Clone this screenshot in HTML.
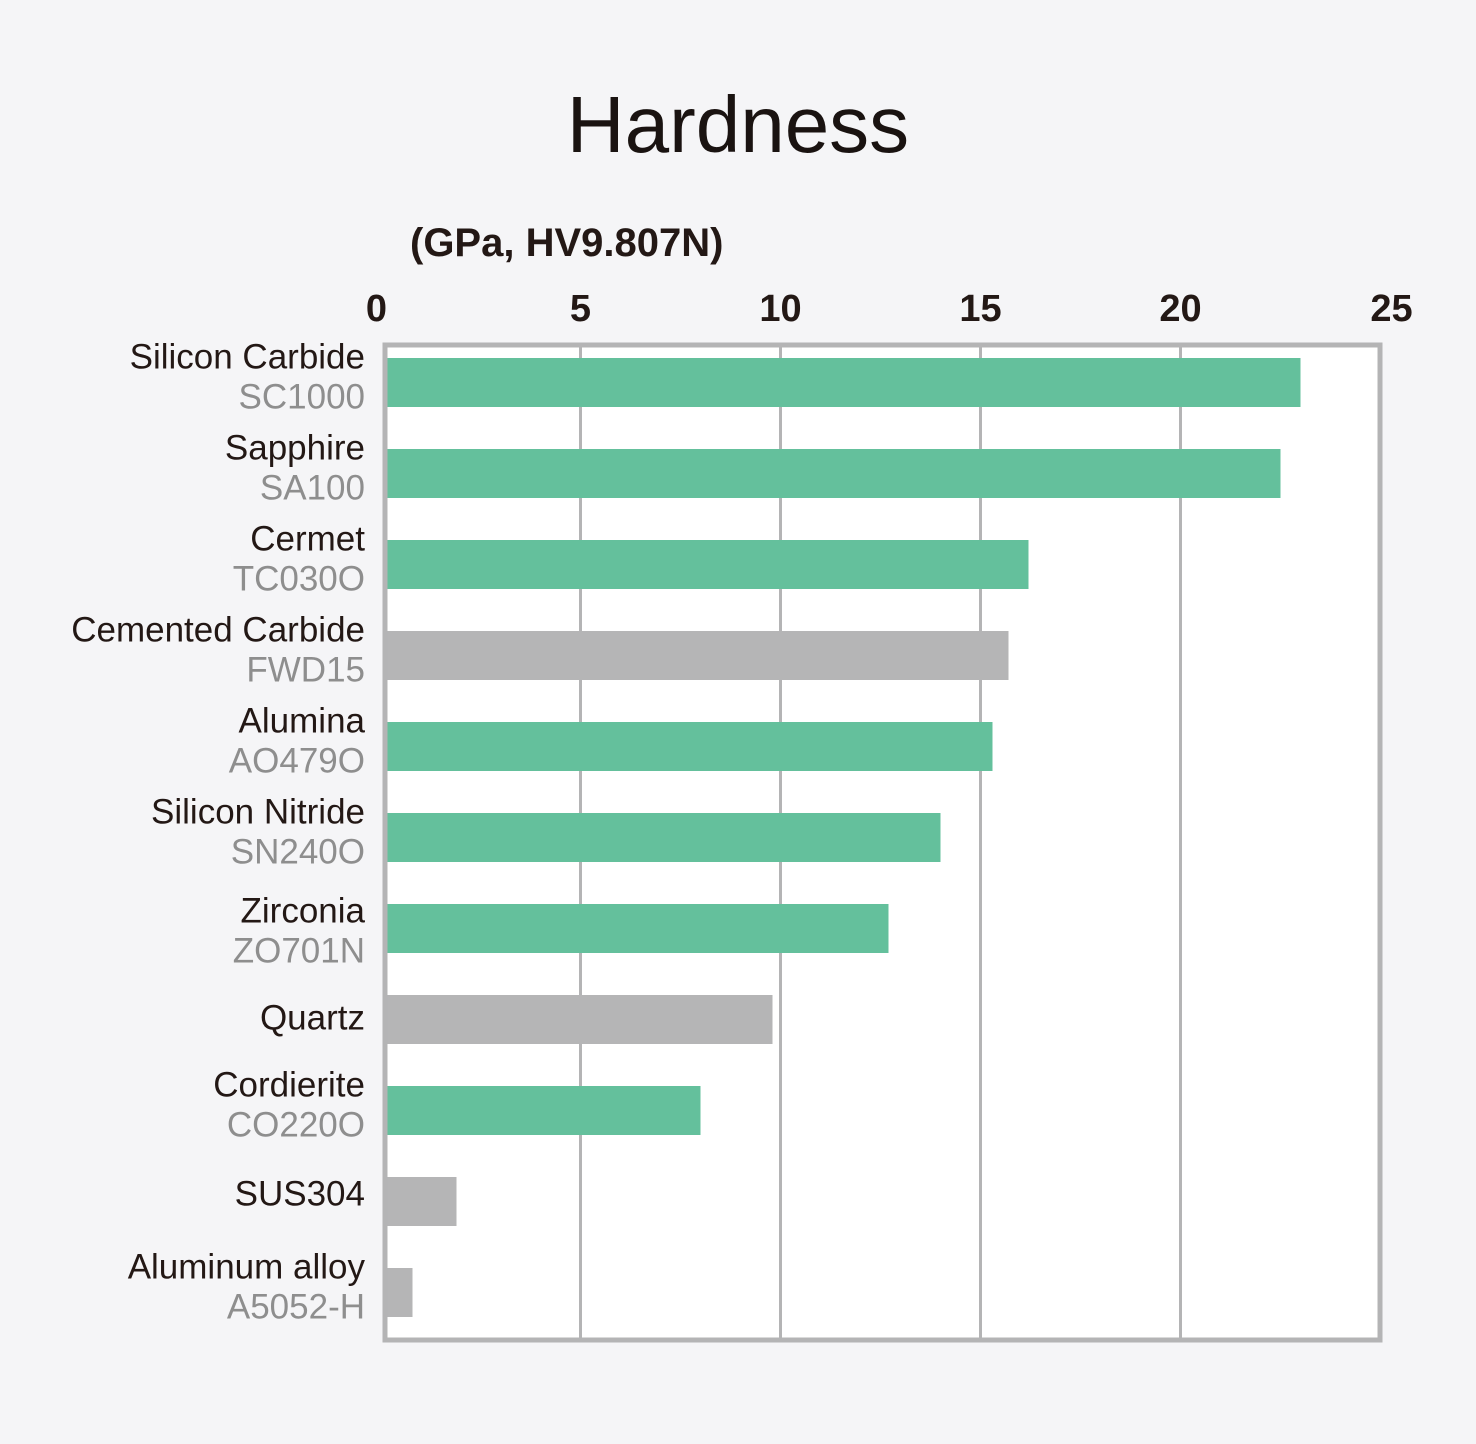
<!DOCTYPE html>
<html><head><meta charset="utf-8"><style>
html,body{margin:0;padding:0;background:#f5f5f7;}
svg{display:block;font-family:"Liberation Sans",sans-serif;}
</style></head><body>
<svg id="chart" width="1476" height="1444" viewBox="0 0 1476 1444">
<rect x="0" y="0" width="1476" height="1444" fill="#f5f5f7"/>
<text x="738" y="152" font-size="80" text-anchor="middle" fill="#1a1311">Hardness</text>
<text x="410" y="256" font-size="40" font-weight="bold" fill="#231815">(GPa, HV9.807N)</text>
<rect x="385" y="345" width="995" height="995" fill="#ffffff"/>
<g id="grid"></g>
<g id="bars"></g>
<rect x="385" y="345" width="995" height="995" fill="none" stroke="#b4b4b5" stroke-width="5"/>
<g id="ticks"></g>
<g id="labels"></g>
</svg>
<script>
const categories = ["Silicon Carbide","Sapphire","Cermet","Cemented Carbide","Alumina","Silicon Nitride","Zirconia","Quartz","Cordierite","SUS304","Aluminum alloy"];
const codes = ["SC1000","SA100","TC030O","FWD15","AO479O","SN240O","ZO701N","","CO220O","","A5052-H"];
const values = [23.0,22.5,16.2,15.7,15.3,14.0,12.7,9.8,8.0,1.9,0.8];
const highlighted = [true,true,true,false,true,true,true,false,true,false,false];
const tickValues = [0,5,10,15,20,25];
const tickLabels = ["0","5","10","15","20","25"];

const NS="http://www.w3.org/2000/svg";
function x(v){return 380.5+v*40;}
function yTop(i){return 358+i*91;}
const barH=49;
const grid=document.getElementById('grid'),bars=document.getElementById('bars'),ticks=document.getElementById('ticks'),labels=document.getElementById('labels');
function mk(tag,attrs){const e=document.createElementNS(NS,tag);for(const k in attrs)e.setAttribute(k,attrs[k]);return e;}
tickValues.forEach((t,i)=>{
  if(t>0&&t<25){
    const l=mk('line',{x1:x(t),x2:x(t),y1:345,y2:1340,stroke:'#b4b4b5','stroke-width':3});
    
    
    grid.appendChild(l);
  }
  const tx=mk('text',{x:x(t)-(t===0?4:(t===25?-11:0)),y:321,'font-size':38,'font-weight':'bold','text-anchor':'middle',fill:'#231815'});
  tx.textContent=tickLabels[i];
  
  
  ticks.appendChild(tx);
});
values.forEach((v,i)=>{
  const r=mk('rect',{x:387,y:yTop(i),width:Math.max(0,x(v)-387),height:barH,fill:highlighted[i]?'#64c09c':'#b5b5b6'});
  
  
  bars.appendChild(r);
  const c=yTop(i)+barH/2;
  if(codes[i]){
    const n=mk('text',{x:365,y:c-14+(i===6?8:0),'font-size':35,'text-anchor':'end',fill:'#231815'});
    n.textContent=categories[i];
    
    
    labels.appendChild(n);
    const s=mk('text',{x:365,y:c+26+(i===6?8:0),'font-size':35,'text-anchor':'end',fill:'#8e8e8e'});
    s.textContent=codes[i];
    
    
    labels.appendChild(s);
  } else {
    const n=mk('text',{x:365,y:c+12+(i===7?-2:-8),'font-size':35,'text-anchor':'end',fill:'#231815'});
    n.textContent=categories[i];
    
    
    labels.appendChild(n);
  }
});
</script>
</body></html>
